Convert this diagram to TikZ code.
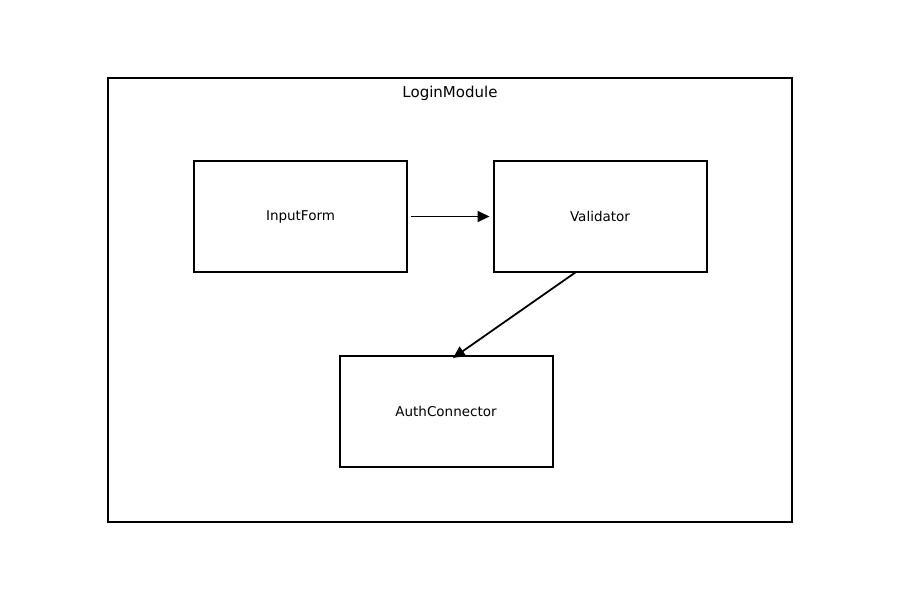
\documentclass[tikz,border=0pt]{standalone}
\usepackage{fontspec}
\setmainfont{DejaVu Sans}
\usetikzlibrary{arrows.meta}
\begin{document}
\begin{tikzpicture}[x=1pt,y=-1pt,
  box/.style={draw,line width=2pt,minimum width=213pt,minimum height=111pt,inner sep=0pt,font=\fontsize{13.5}{16}\selectfont},
  arr/.style={line width=1.8pt,-{Triangle[length=12pt,width=11pt]}}]
\useasboundingbox (0,0) rectangle (900,600);
\node[draw,line width=1.5pt,minimum width=684pt,minimum height=444pt,inner sep=0pt] (m) at (450,300) {};
\node[font=\fontsize{15}{18}\selectfont] (t) at (450,93) {LoginModule};
\node[box] (i) at (300.5,216.5) {InputForm};
\node[box] (v) at (600,216.5) {Validator};
\node[box] (a) at (446,411.5) {AuthConnector};
\draw[arr] ([xshift=3pt]i.east) -- ([xshift=-3pt]v.west);
\draw[arr] ([xshift=-24pt,yshift=1pt]v.south) -- ([xshift=7pt,yshift=-3pt]a.north);
\end{tikzpicture}
\end{document}
